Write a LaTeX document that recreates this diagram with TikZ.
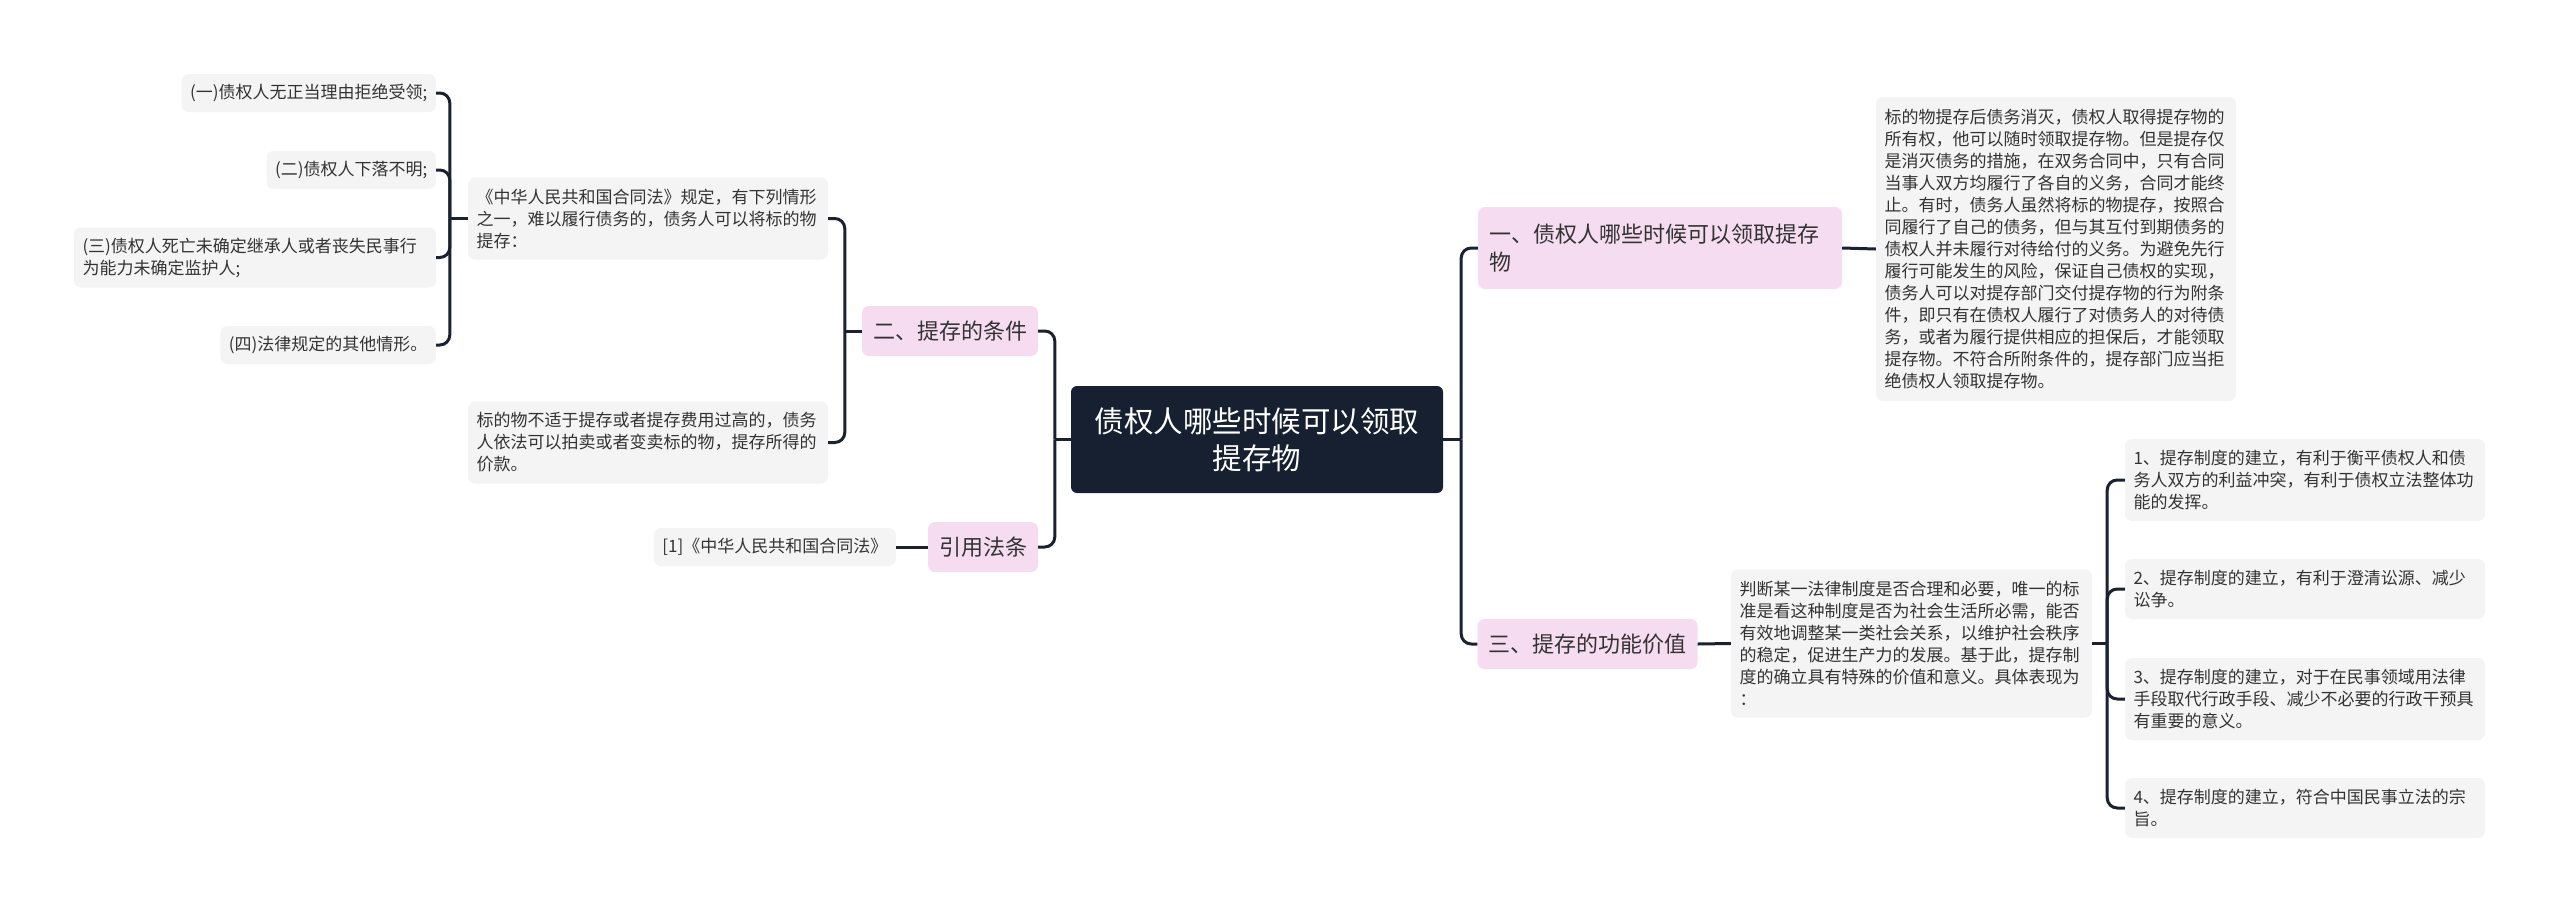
\documentclass[tikz,border=0pt]{standalone}
\usepackage{fontspec}
\setmainfont{Noto Sans CJK SC}
\usetikzlibrary{calc}
\definecolor{rootc}{HTML}{172030}
\definecolor{linec}{HTML}{1A2232}
\definecolor{pinkc}{HTML}{F6DCF0}
\definecolor{greyc}{HTML}{F4F4F4}
\definecolor{textc}{HTML}{333333}
\begin{document}
\begin{tikzpicture}[x=1pt,y=-1pt,
  conn/.style={draw=linec, line width=3pt, rounded corners=10pt},
  grey/.style={fill=greyc, rounded corners=7pt, inner xsep=8.5pt, inner ysep=0pt, font=\fontsize{17}{22}\selectfont, text=textc, align=left},
  pink/.style={fill=pinkc, rounded corners=7pt, inner xsep=11pt, inner ysep=0pt, font=\fontsize{22}{28}\selectfont, text=textc, align=left},
  rootbox/.style={fill=rootc, rounded corners=6pt, text=white, font=\fontsize{29.5}{37}\selectfont, align=center, inner sep=0pt}
]
\useasboundingbox[fill=white] (0,0) rectangle (2560,913);

% root
\node[rootbox, minimum width=372pt, minimum height=107pt] (root) at (1257,439.5) {债权人哪些时候可以领取\\提存物};

% left side
\node[pink, minimum width=176pt, minimum height=50pt] (c1) at (950,331) {二、提存的条件};
\node[pink, minimum width=110pt, minimum height=50pt] (c2) at (983,547) {引用法条};
\node[grey, anchor=east, minimum height=38pt] (c3) at (896,547) {[1]《中华人民共和国合同法》};
\node[grey, text width=343pt, minimum height=82pt] (b1) at (648,218.5) {《中华人民共和国合同法》规定，有下列情形\\之一，难以履行债务的，债务人可以将标的物\\提存：};
\node[grey, text width=343pt, minimum height=82pt] (b2) at (648,442.5) {标的物不适于提存或者提存费用过高的，债务\\人依法可以拍卖或者变卖标的物，提存所得的\\价款。};
\node[grey, anchor=east, minimum height=38pt] (a1) at (436,93) {(一)债权人无正当理由拒绝受领;};
\node[grey, anchor=east, minimum height=38pt] (a2) at (436,170) {(二)债权人下落不明;};
\node[grey, text width=345pt, minimum height=60pt] (a3) at (255,257.5) {(三)债权人死亡未确定继承人或者丧失民事行\\为能力未确定监护人;};
\node[grey, anchor=east, minimum height=38pt] (a4) at (436,345) {(四)法律规定的其他情形。};

% right side
\node[pink, text width=342pt, minimum height=82pt] (r1) at (1660,248) {一、债权人哪些时候可以领取提存\\物};
\node[grey, text width=343pt, minimum height=304pt] (r1d) at (2056,249) {标的物提存后债务消灭，债权人取得提存物的\\所有权，他可以随时领取提存物。但是提存仅\\是消灭债务的措施，在双务合同中，只有合同\\当事人双方均履行了各自的义务，合同才能终\\止。有时，债务人虽然将标的物提存，按照合\\同履行了自己的债务，但与其互付到期债务的\\债权人并未履行对待给付的义务。为避免先行\\履行可能发生的风险，保证自己债权的实现，\\债务人可以对提存部门交付提存物的行为附条\\件，即只有在债权人履行了对债务人的对待债\\务，或者为履行提供相应的担保后，才能领取\\提存物。不符合所附条件的，提存部门应当拒\\绝债权人领取提存物。};
\node[pink, minimum width=219pt, minimum height=50pt] (r3) at (1587.5,644) {三、提存的功能价值};
\node[grey, text width=344pt, minimum height=148pt] (r3d) at (1911.5,643.5) {判断某一法律制度是否合理和必要，唯一的标\\准是看这种制度是否为社会生活所必需，能否\\有效地调整某一类社会关系，以维护社会秩序\\的稳定，促进生产力的发展。基于此，提存制\\度的确立具有特殊的价值和意义。具体表现为\\：};
\node[grey, text width=343pt, minimum height=82pt] (d1) at (2305,480) {1、提存制度的建立，有利于衡平债权人和债\\务人双方的利益冲突，有利于债权立法整体功\\能的发挥。};
\node[grey, text width=343pt, minimum height=60pt] (d2) at (2305,589) {2、提存制度的建立，有利于澄清讼源、减少\\讼争。};
\node[grey, text width=343pt, minimum height=82pt] (d3) at (2305,699) {3、提存制度的建立，对于在民事领域用法律\\手段取代行政手段、减少不必要的行政干预具\\有重要的意义。};
\node[grey, text width=343pt, minimum height=60pt] (d4) at (2305,808) {4、提存制度的建立，符合中国民事立法的宗\\旨。};

% junctions
\coordinate (jL) at ($(root.west)+(-16,0)$);
\coordinate (jR) at ($(root.east)+(18,0)$);
\coordinate (jc1) at ($(c1.west)+(-17,0)$);
\coordinate (jb1) at ($(b1.west)+(-18,0)$);
\coordinate (jd) at ($(r3d.east)+(15,0)$);

% connectors
\draw[conn] (root.west) -- (jL);
\draw[conn] (jL) |- (c1.east);
\draw[conn] (jL) |- (c2.east);
\draw[conn] (root.east) -- (jR);
\draw[conn] (jR) |- (r1.west);
\draw[conn] (jR) |- (r3.west);
\draw[conn] (c1.west) -- (jc1);
\draw[conn] (jc1) |- (b1.east);
\draw[conn] (jc1) |- (b2.east);
\draw[conn] (b1.west) -- (jb1);
\draw[conn] (jb1) |- (a1.east);
\draw[conn] (jb1) |- (a2.east);
\draw[conn] (jb1) |- (a3.east);
\draw[conn] (jb1) |- (a4.east);
\draw[conn] (c2.west) -- (c3.east);
\draw[conn] (r1.east) -- (r1d.west);
\draw[conn] (r3.east) -- (r3d.west);
\draw[conn] (r3d.east) -- (jd);
\draw[conn] (jd) |- (d1.west);
\draw[conn] (jd) |- (d2.west);
\draw[conn] (jd) |- (d3.west);
\draw[conn] (jd) |- (d4.west);
\end{tikzpicture}
\end{document}
